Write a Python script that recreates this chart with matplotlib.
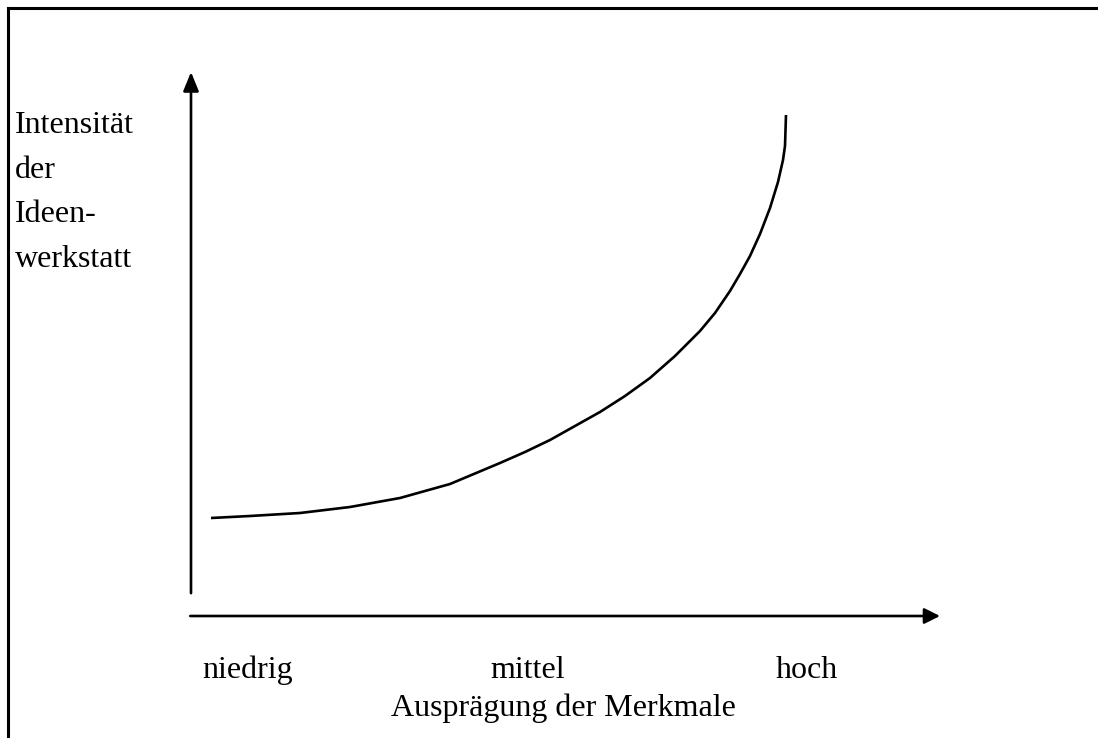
import matplotlib.pyplot as plt
from matplotlib.lines import Line2D

# Daten
kategorien = ["niedrig", "mittel", "hoch"]
kat_pos = [1, 2, 3]
ylabel_zeilen = ["Intensität", "der", "Ideen-", "werkstatt"]
xlabel = "Ausprägung der Merkmale"

kurve_px_x = [211, 250, 300, 350, 400, 450, 500, 525, 550, 575, 600, 625, 650,
              675, 700, 715, 730, 740, 750, 760, 770, 778, 783, 785, 786]
kurve_px_y = [518, 516, 513, 507, 498, 484, 463, 452, 440, 426, 412, 396, 378,
              356, 331, 313, 291, 274, 256, 234, 208, 182, 160, 146, 115]

W, H, DPI = 1098, 738, 100
fig = plt.figure(figsize=(W / DPI, H / DPI), dpi=DPI)
plt.rcParams['font.family'] = ['Liberation Serif', 'DejaVu Serif']

# Achsenbereich in Pixeln: links 191, rechts 940, unten 616, oben 72
links, rechts, unten, oben = 191, 940, 616, 72
ax = fig.add_axes([links / W, 1 - unten / H, (rechts - links) / W, (unten - oben) / H])
px_pro_einheit = (807 - 248) / 2
ax.set_xlim(1 - (248 - links) / px_pro_einheit, 3 + (rechts - 807) / px_pro_einheit)
ax.set_ylim(0, 100)
ax.axis('off')

kurve_x = [1 + (px - 248) / px_pro_einheit for px in kurve_px_x]
kurve_y = [(unten - py) / (unten - oben) * 100 for py in kurve_px_y]
ax.plot(kurve_x, kurve_y, color='black', lw=1.9, solid_capstyle='butt',
        solid_joinstyle='round')

# Pfeile
ax.annotate("", xy=(0, 1.0), xytext=(0, 0.042), xycoords='axes fraction',
            arrowprops=dict(arrowstyle="-|>,head_length=1.15,head_width=0.47",
                            mutation_scale=10, color='black', lw=1.9,
                            shrinkA=0, shrinkB=0))
ax.annotate("", xy=(1.0, 0), xytext=(-0.001, 0), xycoords='axes fraction',
            arrowprops=dict(arrowstyle="-|>,head_length=0.94,head_width=0.47",
                            mutation_scale=10, color='black', lw=1.9,
                            shrinkA=0, shrinkB=0))

fs = 23
trans = ax.get_xaxis_transform()
for pos, name in zip(kat_pos, kategorien):
    ax.text(pos, -(678 - unten) / (unten - oben), name, transform=trans,
            fontsize=fs, ha='center', va='baseline')

fig.text(563 / W, 1 - 716 / H, xlabel, fontsize=fs, ha='center', va='baseline')

for i, zeile in enumerate(ylabel_zeilen):
    fig.text(15 / W, 1 - (133 + i * 44.7) / H, zeile, fontsize=fs,
             ha='left', va='baseline')

# Rahmen oben und links
fig.add_artist(Line2D([8 / W, 1], [1 - 8 / H, 1 - 8 / H], color='black', lw=2.2,
                      transform=fig.transFigure))
fig.add_artist(Line2D([8 / W, 8 / W], [0, 1 - 8 / H], color='black', lw=2.2,
                      transform=fig.transFigure))

fig.savefig("out.png", dpi=DPI)
